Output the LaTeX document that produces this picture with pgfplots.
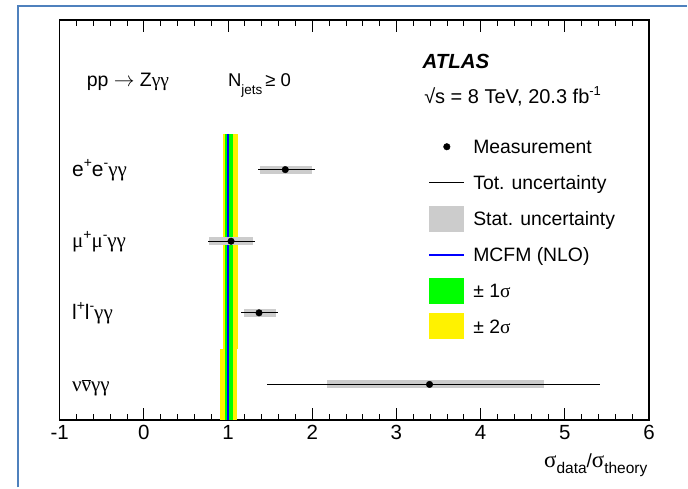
\documentclass[border=0pt]{standalone}
\usepackage{pgfplots}
\pgfplotsset{compat=1.18}
\usepackage{fontspec}
\setmainfont{Liberation Sans}
\newfontfamily\grk{Liberation Serif}
\definecolor{frameblue}{RGB}{79,129,189}
\newcommand{\fs}[1]{\fontsize{#1}{#1}\selectfont}
\begin{document}
\begin{tikzpicture}[x=1pt,y=1pt]
\path (0,0) rectangle (688,488);
\draw[frameblue, line width=2pt] (18.3,0) -- (18.3,482.3) -- (688,482.3);
\begin{axis}[
  at={(59.7pt,67.15pt)}, anchor=south west,
  width=590.3pt, height=400.85pt, scale only axis,
  xmin=-1, xmax=6, ymin=0.5, ymax=6.09,
  xtick={-1,0,1,2,3,4,5,6}, minor x tick num=4,
  ytick=\empty,
  tick align=inside, major tick length=12pt, minor tick length=6pt,
  tick style={black, line width=0.8pt},
  axis line style={line width=1.5pt},
  /pgf/number format/assume math mode=true,
  ticklabel style={font=\fs{20.5}},
  xticklabel style={yshift=-1.5pt},
  xlabel={{\grk\fs{23}σ}\raisebox{-6pt}{\fs{15.5}data}/{\grk\fs{23}σ}\raisebox{-6pt}{\fs{15.5}theory}},
  xlabel style={at={(axis description cs:1,0)}, anchor=base east, inner sep=0pt, yshift=-47pt, xshift=-1.5pt, font=\fs{19}},
  legend style={at={(axis description cs:0.6256,0.7157)}, anchor=north west, draw=none, fill=none,
    inner sep=0pt, outer sep=0pt, row sep=10pt, column sep=8pt, font=\fs{19.4},
    nodes={inner sep=0pt, text height=13.9pt, text depth=0pt, anchor=west}},
  legend cell align=left,
]
% theory bands
\addplot[fill=yellow, draw=none, forget plot] coordinates {(0.935,1.5) (1.117,1.5) (1.117,4.5) (0.935,4.5)};
\addplot[fill=yellow, draw=none, forget plot] coordinates {(0.907,0.5) (1.105,0.5) (1.105,1.5) (0.907,1.5)};
\addplot[fill=green, draw=none, forget plot] coordinates {(0.970,1.5) (1.065,1.5) (1.065,4.5) (0.970,4.5)};
\addplot[fill=green, draw=none, forget plot] coordinates {(0.960,0.5) (1.059,0.5) (1.059,1.5) (0.960,1.5)};
\addplot[blue, line width=2pt, forget plot] coordinates {(1,0.5) (1,4.5)};
% stat uncertainty
\addplot[gray!40, only marks, mark=none, forget plot,
  error bars/.cd, x dir=both, x explicit, error mark=none,
  error bar style={line width=8pt, gray!40}] coordinates {
 (1.680,4) += (0.321,0) -= (0.304,0)
 (1.036,3) += (0.257,0) -= (0.265,0)
 (1.368,2) += (0.198,0) -= (0.182,0)
 (3.393,1) += (1.364,0) -= (1.219,0)
};
% total uncertainty
\addplot[black, only marks, mark=none, forget plot,
  error bars/.cd, x dir=both, x explicit, error mark=none,
  error bar style={line width=0.8pt, black}] coordinates {
 (1.680,4) += (0.357,0) -= (0.324,0)
 (1.036,3) += (0.289,0) -= (0.270,0)
 (1.368,2) += (0.230,0) -= (0.214,0)
 (3.393,1) += (2.020,0) -= (1.926,0)
};
% measurement
\addplot[black, only marks, mark=*, mark size=3.3pt, forget plot] coordinates {
 (1.680,4) (1.036,3) (1.368,2) (3.393,1)
};
% legend
\addlegendimage{legend image code/.code={\path[draw=none,fill=none] (0pt,-13pt) rectangle (35pt,13pt); \fill[black] (17.5pt,0pt) circle (3.3pt);}}
\addlegendentry{Measurement}
\addlegendimage{legend image code/.code={\path[draw=none,fill=none] (0pt,-13pt) rectangle (35pt,13pt); \draw[black, line width=0.8pt] (0pt,0pt) -- (35pt,0pt);}}
\addlegendentry{Tot. uncertainty}
\addlegendimage{legend image code/.code={\fill[gray!40, draw=none] (0pt,-13pt) rectangle (35pt,13pt);}}
\addlegendentry{Stat. uncertainty}
\addlegendimage{legend image code/.code={\path[draw=none,fill=none] (0pt,-13pt) rectangle (35pt,13pt); \draw[blue, line width=2pt] (0pt,0pt) -- (35pt,0pt);}}
\addlegendentry{MCFM (NLO)}
\addlegendimage{legend image code/.code={\fill[green, draw=none] (0pt,-13pt) rectangle (35pt,13pt);}}
\addlegendentry{± 1{\grk σ}}
\addlegendimage{legend image code/.code={\fill[yellow, draw=none] (0pt,-13pt) rectangle (35pt,13pt);}}
\addlegendentry{± 2{\grk σ}}
% texts
\node[anchor=base west, inner sep=0pt, font=\fs{19.5}] at (axis cs:-0.680,5.155) {pp $\rightarrow$ Z{\grk γγ}};
\node[anchor=base west, inner sep=0pt, font=\fs{18.5}] at (axis cs:0.998,5.160) {N\raisebox{-8pt}{\fs{13.5}jets}\,≥ 0};
\node[anchor=base west, inner sep=0pt, font=\fs{20.5}\bfseries\itshape] at (axis cs:3.308,5.416) {ATLAS};
\node[anchor=base west, inner sep=0pt, font=\fs{20}] at (axis cs:3.328,4.928) {√s = 8 TeV, 20.3 fb\raisebox{7.5pt}{\fs{13}-1}};
\node[anchor=base west, inner sep=0pt, font=\fs{21}] at (axis cs:-0.854,3.908) {e\raisebox{8.5pt}{\fs{14}+}e\raisebox{8.5pt}{\fs{14}-}{\grk γγ}};
\node[anchor=base west, inner sep=0pt, font=\fs{21}] at (axis cs:-0.854,2.908) {{\grk μ}\raisebox{8.5pt}{\fs{14}+}{\grk μ}\raisebox{8.5pt}{\fs{14}-}{\grk γγ}};
\node[anchor=base west, inner sep=0pt, font=\fs{21}] at (axis cs:-0.854,1.907) {l\raisebox{8.5pt}{\fs{14}+}l\raisebox{8.5pt}{\fs{14}-}{\grk γγ}};
\node[anchor=base west, inner sep=0pt, font=\fs{21}] at (axis cs:-0.854,0.908) {{\grk ν$\overline{\mbox{ν}}$γγ}};
\end{axis}
\end{tikzpicture}
\end{document}
